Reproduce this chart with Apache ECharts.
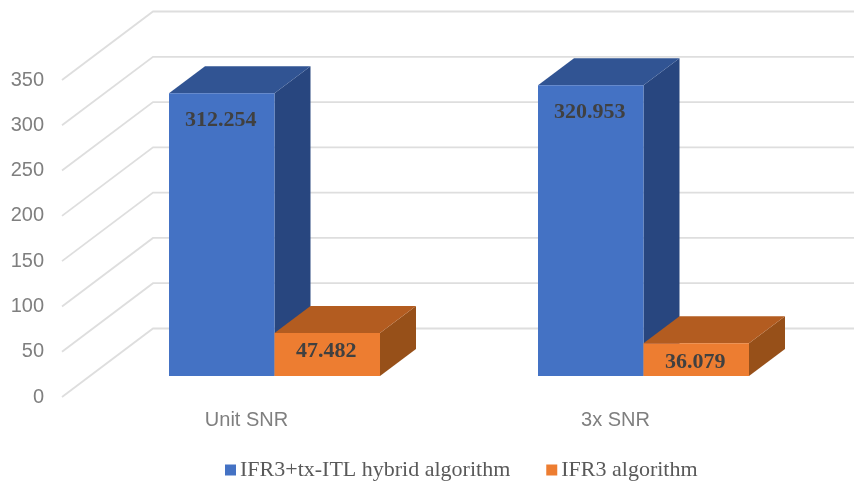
<!DOCTYPE html>
<html>
<head>
<meta charset="utf-8" />
<title>IFR3 chart</title>
<script src="https://cdn.jsdelivr.net/npm/echarts@6/dist/echarts.min.js"></script>
<style>
  html, body { margin: 0; padding: 0; background: #fff; }
  #main { width: 854px; height: 481px; }
</style>
</head>
<body>
<div id="main"></div>
<script>
const categories = ["Unit SNR", "3x SNR"];
const hybridValues = [312.254, 320.953];
const ifr3Values = [47.482, 36.079];
const yTicks = [0, 50, 100, 150, 200, 250, 300, 350];
const hybridName = "IFR3+tx-ITL hybrid algorithm";
const ifr3Name = "IFR3 algorithm";

// fake 3d: oblique projection, wall depth and bar depth in px
const wallDx = 91, wallDy = 68.5;
const barShiftX = 28, barShiftY = 21;
const depthX = 36, depthY = 27;
const barWidth = 105.5;

const chart = echarts.init(document.getElementById("main"));

function wallItem(params, api) {
  const y = api.coord([0, api.value(1)])[1];
  const x = params.coordSys.x;
  return {
    type: "polyline",
    silent: true,
    shape: { points: [[x, y], [x + wallDx, y - wallDy], [854, y - wallDy]] },
    style: { fill: null, stroke: "#dedede", lineWidth: 1.8 },
  };
}

function barRenderer(side, colors, labelGap) {
  return function (params, api) {
    const top = api.coord([api.value(0), api.value(1)]);
    const base = api.coord([api.value(0), 0]);
    const x0 = top[0] + barShiftX + (side < 0 ? -barWidth : 0);
    const x1 = x0 + barWidth;
    const y0 = top[1] - barShiftY;
    const y1 = base[1] - barShiftY;
    return {
      type: "group",
      children: [
        {
          type: "polygon",
          shape: { points: [[x1, y0], [x1 + depthX, y0 - depthY], [x1 + depthX, y1 - depthY], [x1, y1]] },
          style: { fill: colors.side },
        },
        {
          type: "polygon",
          shape: { points: [[x0, y0], [x0 + depthX, y0 - depthY], [x1 + depthX, y0 - depthY], [x1, y0]] },
          style: { fill: colors.top },
        },
        {
          type: "rect",
          shape: { x: x0, y: y0, width: barWidth, height: y1 - y0 },
          style: { fill: colors.front },
        },
        {
          type: "text",
          style: {
            x: (x0 + x1) / 2 - 1,
            y: y0 + labelGap,
            text: api.value(1).toFixed(3),
            fill: "#404040",
            font: "bold 22px 'Liberation Serif', serif",
            align: "center",
            verticalAlign: "middle",
          },
        },
      ],
    };
  };
}

const blue = { front: "#4472c4", side: "#28467f", top: "#315493" };
const orange = { front: "#ed7d31", side: "#975019", top: "#b35c20" };

chart.setOption({
  animation: false,
  backgroundColor: "#fff",
  grid: { left: 62, right: 54, top: 80, bottom: 84 },
  legend: {
    data: [hybridName, ifr3Name],
    left: 220,
    top: 454,
    icon: "rect",
    itemWidth: 11,
    itemHeight: 11,
    itemGap: 36,
    textStyle: {
      color: "#595959",
      fontFamily: "Liberation Serif",
      fontSize: 22,
      padding: [0, 0, 0, -1],
    },
  },
  xAxis: {
    type: "category",
    data: categories,
    axisLine: { show: false },
    axisTick: { show: false },
    axisLabel: {
      color: "#7f7f7f",
      fontFamily: "Liberation Sans",
      fontSize: 20,
      margin: 13,
    },
  },
  yAxis: {
    type: "value",
    min: 0,
    max: 350,
    interval: 50,
    axisLine: { show: false },
    axisTick: { show: false },
    splitLine: { show: false },
    axisLabel: {
      color: "#7f7f7f",
      fontFamily: "Liberation Sans",
      fontSize: 20,
      margin: 18,
    },
  },
  series: [
    {
      type: "custom",
      name: "walls",
      renderItem: wallItem,
      encode: { x: 0, y: 1 },
      data: yTicks.map((t) => [0, t]),
      z: 1,
    },
    {
      type: "custom",
      name: hybridName,
      itemStyle: { color: blue.front },
      renderItem: barRenderer(-1, blue, 27.5),
      encode: { x: 0, y: 1 },
      data: hybridValues.map((v, i) => [i, v]),
      z: 2,
    },
    {
      type: "custom",
      name: ifr3Name,
      itemStyle: { color: orange.front },
      renderItem: barRenderer(1, orange, 18.5),
      encode: { x: 0, y: 1 },
      data: ifr3Values.map((v, i) => [i, v]),
      z: 3,
    },
  ],
});
</script>
</body>
</html>
